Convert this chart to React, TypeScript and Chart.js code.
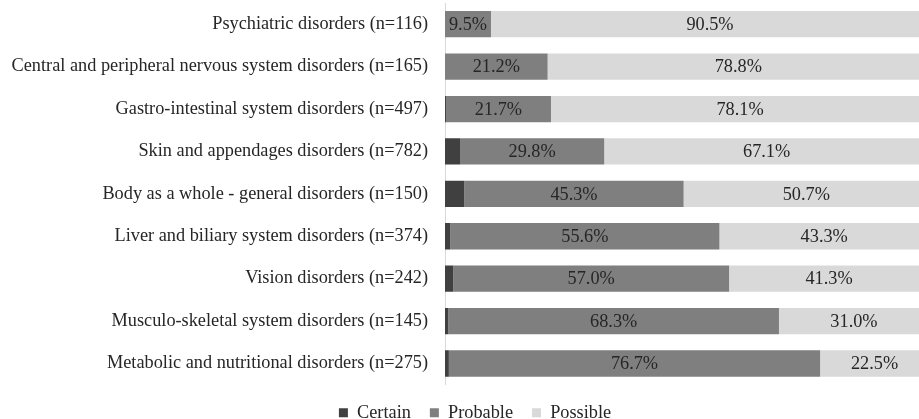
import React, { useEffect, useRef } from "react";
import { Chart, registerables } from "chart.js";

Chart.register(...registerables);

const categories = [
  "Psychiatric disorders (n=116)",
  "Central and peripheral nervous system disorders (n=165)",
  "Gastro-intestinal system disorders (n=497)",
  "Skin and appendages disorders (n=782)",
  "Body as a whole - general disorders (n=150)",
  "Liver and biliary system disorders (n=374)",
  "Vision disorders (n=242)",
  "Musculo-skeletal system disorders (n=145)",
  "Metabolic and nutritional disorders (n=275)",
];

const certain = [0, 0, 0.2, 3.1, 4.0, 1.1, 1.7, 0.7, 0.8];
const probable = [9.5, 21.2, 21.7, 29.8, 45.3, 55.6, 57.0, 68.3, 76.7];
const possible = [90.5, 78.8, 78.1, 67.1, 50.7, 43.3, 41.3, 31.0, 22.5];

const FONT = "'Liberation Serif', 'Times New Roman', serif";
const FONT_SIZE = 18.3;
const TEXT = "#262626";

// Writes the percentage inside each Probable and Possible segment
const segmentLabels = {
  id: "segmentLabels",
  afterDatasetsDraw(chart: any) {
    const ctx = chart.ctx;
    ctx.save();
    ctx.font = `${FONT_SIZE}px ${FONT}`;
    ctx.fillStyle = TEXT;
    ctx.textAlign = "center";
    ctx.textBaseline = "middle";
    [1, 2].forEach((di) => {
      const meta = chart.getDatasetMeta(di);
      const values = chart.data.datasets[di].data as number[];
      meta.data.forEach((bar: any, i: number) => {
        const v = values[i];
        if (!v) return;
        const { x, base, y } = bar.getProps(["x", "base", "y"], true);
        ctx.fillText(`${v.toFixed(1)}%`, (x + base) / 2, y + 1);
      });
    });
    ctx.restore();
  },
};

// Centres the legend row on the whole canvas width rather than the padded box
const legendCentre = {
  id: "legendCentre",
  afterLayout(chart: any) {
    if (chart.legend) chart.legend.left += 21;
  },
};

export default function App() {
  const canvasRef = useRef<HTMLCanvasElement | null>(null);

  useEffect(() => {
    if (!canvasRef.current) return;
    const chart = new Chart(canvasRef.current, {
      type: "bar",
      data: {
        labels: categories,
        datasets: [
          { label: "Certain", data: certain, backgroundColor: "#404040" },
          { label: "Probable", data: probable, backgroundColor: "#7f7f7f" },
          { label: "Possible", data: possible, backgroundColor: "#d9d9d9" },
        ],
      },
      options: {
        indexAxis: "y",
        responsive: false,
        animation: false,
        devicePixelRatio: 1,
        datasets: {
          bar: { categoryPercentage: 0.62, barPercentage: 1, borderWidth: 0 },
        },
        layout: { padding: { top: 3, right: 21, bottom: 0, left: 0 } },
        scales: {
          x: { display: false, stacked: true, min: 0, max: 100 },
          y: {
            stacked: true,
            grid: { color: "rgba(0,0,0,0)", drawTicks: false },
            border: { display: true, color: "#d9d9d9", width: 1 },
            ticks: {
              padding: 17,
              color: TEXT,
              font: { family: FONT, size: FONT_SIZE },
            },
            afterFit(scale: any) {
              scale.width = 445;
              scale.paddingTop = 0;
              scale.paddingBottom = 0;
            },
          },
        },
        plugins: {
          tooltip: { enabled: false },
          legend: {
            position: "bottom",
            labels: {
              boxWidth: 9,
              boxHeight: 9,
              padding: 19,
              color: TEXT,
              font: { family: FONT, size: FONT_SIZE },
            },
          },
        },
      },
      plugins: [segmentLabels, legendCentre],
    });
    return () => chart.destroy();
  }, []);

  return (
    <div
      style={{
        position: "fixed",
        left: 0,
        top: 0,
        width: 919,
        height: 419,
        overflow: "hidden",
        background: "#ffffff",
      }}
    >
      <canvas
        ref={canvasRef}
        width={950}
        height={432}
        style={{ width: 950, height: 432, display: "block" }}
      />
    </div>
  );
}
